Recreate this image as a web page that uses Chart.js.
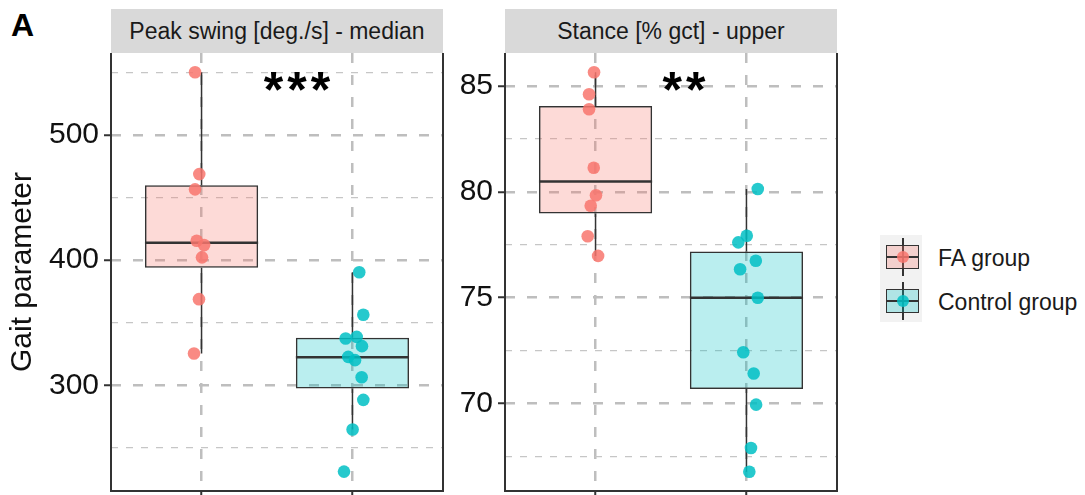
<!DOCTYPE html>
<html>
<head>
<meta charset="utf-8">
<script src="https://cdn.jsdelivr.net/npm/chart.js@4.4.1/dist/chart.umd.min.js"></script>
<style>
  body { margin: 0; background: #fff; font-family: "Liberation Sans", Arial, sans-serif; }
  #wrap { position: relative; width: 1085px; height: 495px; overflow: hidden; }
  canvas { position: absolute; }
  .strip { position: absolute; top: 9px; height: 44px; width: 332px; background: #D9D9D9;
           color: #1a1a1a; font-size: 23px; line-height: 44px; text-align: center; white-space: nowrap; }
  .tag { position: absolute; left: 11px; top: 9px; font-size: 32px; line-height: 32px; font-weight: bold; color: #000; }
  .stars { position: absolute; top: 65px; width: 200px; text-align: center; font-size: 50px; line-height: 50px; font-weight: bold; color: #000; letter-spacing: 4px; }
  .lg { position: absolute; }
  .lgtext { position: absolute; left: 938px; font-size: 23px; line-height: 28px; color: #1a1a1a; white-space: nowrap; }
</style>
</head>
<body>
<div id="wrap">
  <div class="tag">A</div>
  <div class="strip" style="left:111px">Peak swing [deg./s] - median</div>
  <div class="strip" style="left:505px">Stance [% gct] - upper</div>
  <canvas id="swing" width="445" height="442" style="left:0;top:53px"></canvas>
  <canvas id="stance" width="394" height="442" style="left:445px;top:53px"></canvas>
  <div class="stars" style="left:199px">***</div>
  <div class="stars" style="left:586px">**</div>
  <div id="legend"></div>
</div>
<script>
// groups and colours
const groups = ["FA group", "Control group"];
const xCategories = [1, 2];
const groupRGB = ["248,118,109", "0,191,196"];

// Peak swing [deg./s] - median
const swingFA = [550.0, 468.7, 456.5, 415.4, 412.0, 402.2, 368.8, 325.4];
const swingFAJitter = [-0.043, -0.015, -0.043, -0.032, 0.017, 0.003, -0.017, -0.050];
const swingCtrl = [390.3, 356.3, 337.4, 338.7, 331.3, 322.7, 320.1, 306.5, 288.4, 264.7, 231.1];
const swingCtrlJitter = [0.045, 0.072, -0.045, 0.028, 0.063, -0.028, 0.017, 0.061, 0.072, 0.001, -0.056];
const swingQ1 = [393.8, 297.5];
const swingMedian = [413.8, 322.5];
const swingQ3 = [459.8, 338.0];
const swingWhiskerLow = [325.4, 264.7];
const swingWhiskerHigh = [550.0, 390.3];
const swingTicks = [300, 400, 500];
const swingMinorTicks = [250, 350, 450, 550];
const swingRange = [215.6, 565.4];

// Stance [% gct] - upper
const stanceFA = [85.65, 84.61, 83.90, 81.14, 79.84, 79.34, 77.90, 76.97];
const stanceFAJitter = [-0.010, -0.043, -0.043, -0.012, 0.003, -0.032, -0.052, 0.017];
const stanceCtrl = [80.13, 77.92, 77.61, 76.74, 76.34, 74.99, 72.42, 71.41, 69.94, 67.89, 66.77];
const stanceCtrlJitter = [0.075, 0.002, -0.054, 0.062, -0.042, 0.075, -0.021, 0.048, 0.064, 0.030, 0.019];
const stanceQ1 = [78.98, 70.68];
const stanceMedian = [80.49, 74.99];
const stanceQ3 = [84.06, 77.18];
const stanceWhiskerLow = [76.97, 66.77];
const stanceWhiskerHigh = [85.65, 80.13];
const stanceTicks = [70, 75, 80, 85];
const stanceMinorTicks = [67.5, 72.5, 77.5, 82.5];
const stanceRange = [65.86, 86.56];

const INK = '#333333';
const GRID = '#BEBEBE';

function boxParts(stats) {
  return {
    id: 'boxParts',
    afterDatasetDraw(chart, args) {
      if (args.meta.type !== 'bar') return;
      const y = chart.scales.y;
      const ctx = chart.ctx;
      ctx.save();
      ctx.strokeStyle = INK;
      args.meta.data.forEach((bar, i) => {
        ctx.lineWidth = 1.5;
        ctx.beginPath();
        ctx.moveTo(bar.x, y.getPixelForValue(stats.high[i]));
        ctx.lineTo(bar.x, y.getPixelForValue(stats.q3[i]));
        ctx.moveTo(bar.x, y.getPixelForValue(stats.q1[i]));
        ctx.lineTo(bar.x, y.getPixelForValue(stats.low[i]));
        ctx.stroke();
        const ym = y.getPixelForValue(stats.median[i]);
        ctx.lineWidth = 2.5;
        ctx.beginPath();
        ctx.moveTo(bar.x - bar.width / 2, ym);
        ctx.lineTo(bar.x + bar.width / 2, ym);
        ctx.stroke();
      });
      ctx.restore();
    },
    afterDraw(chart) {
      // panel border (left, right, bottom)
      const a = chart.chartArea;
      const ctx = chart.ctx;
      ctx.save();
      ctx.strokeStyle = INK;
      ctx.lineWidth = 2;
      ctx.beginPath();
      ctx.moveTo(a.left, a.top);
      ctx.lineTo(a.left, a.bottom);
      ctx.lineTo(a.right, a.bottom);
      ctx.lineTo(a.right, a.top);
      ctx.stroke();
      ctx.restore();
    }
  };
}

function makePanel(id, p) {
  const noPad = s => { s.paddingTop = 0; s.paddingBottom = 0; s.paddingLeft = 0; s.paddingRight = 0; };
  return new Chart(document.getElementById(id), {
    type: 'scatter',
    data: {
      datasets: [
        {
          type: 'bar',
          data: xCategories.map((c, i) => ({ x: c, y: [p.q1[i], p.q3[i]] })),
          backgroundColor: groupRGB.map(c => 'rgba(' + c + ',0.27)'),
          borderColor: INK,
          borderWidth: 1.5,
          borderSkipped: false,
          categoryPercentage: 1,
          barPercentage: 0.75,
          order: 1
        },
        {
          label: groups[0],
          data: p.fa.map((v, i) => ({ x: xCategories[0] + p.faJitter[i], y: v })),
          pointBackgroundColor: 'rgba(' + groupRGB[0] + ',0.85)',
          pointBorderWidth: 0,
          pointRadius: 6.3,
          order: 0
        },
        {
          label: groups[1],
          data: p.ctrl.map((v, i) => ({ x: xCategories[1] + p.ctrlJitter[i], y: v })),
          pointBackgroundColor: 'rgba(' + groupRGB[1] + ',0.85)',
          pointBorderWidth: 0,
          pointRadius: 6.3,
          order: 0
        }
      ]
    },
    options: {
      responsive: false,
      animation: false,
      events: [],
      layout: { autoPadding: false, padding: { left: 0, top: 0, right: 2, bottom: 0 } },
      plugins: { legend: { display: false }, tooltip: { enabled: false } },
      scales: {
        x: {
          type: 'linear', min: 0.4, max: 2.6, offset: false,
          afterBuildTicks: s => { s.ticks = xCategories.map(v => ({ value: v })); },
          afterFit: s => { s.height = 4; noPad(s); },
          ticks: { display: false },
          grid: { offset: false, color: GRID, lineWidth: 2.5, tickLength: 6, tickColor: INK, tickWidth: 2 },
          border: { display: false, dash: [10, 12] }
        },
        y: {
          type: 'linear', position: 'left', min: p.range[0], max: p.range[1], beginAtZero: false,
          afterBuildTicks: s => { s.ticks = p.ticks.map(v => ({ value: v })); },
          afterFit: s => { s.width = p.axisWidth; noPad(s); },
          ticks: { font: { size: 30, family: 'Liberation Sans' }, color: '#111', padding: 5 },
          grid: { color: GRID, lineWidth: 2.5, tickLength: 7, tickColor: INK, tickWidth: 2 },
          border: { display: false, dash: [10, 12] },
          title: {
            display: !!p.title, text: p.title, color: '#111',
            font: { size: 30, family: 'Liberation Sans' }, padding: { top: 5, bottom: 0 }
          }
        },
        yMinor: {
          type: 'linear', position: 'left', min: p.range[0], max: p.range[1],
          afterBuildTicks: s => { s.ticks = p.minorTicks.map(v => ({ value: v })); },
          afterFit: s => { s.width = 0; noPad(s); },
          ticks: { display: false },
          grid: { color: '#C6C6C6', lineWidth: 1.2, drawTicks: false },
          border: { display: false, dash: [7, 8] }
        }
      }
    },
    plugins: [boxParts({ q1: p.q1, q3: p.q3, median: p.median, low: p.low, high: p.high })]
  });
}

makePanel('swing', {
  fa: swingFA, faJitter: swingFAJitter, ctrl: swingCtrl, ctrlJitter: swingCtrlJitter,
  q1: swingQ1, q3: swingQ3, median: swingMedian, low: swingWhiskerLow, high: swingWhiskerHigh,
  ticks: swingTicks, minorTicks: swingMinorTicks, range: swingRange,
  axisWidth: 111, title: 'Gait parameter'
});

makePanel('stance', {
  fa: stanceFA, faJitter: stanceFAJitter, ctrl: stanceCtrl, ctrlJitter: stanceCtrlJitter,
  q1: stanceQ1, q3: stanceQ3, median: stanceMedian, low: stanceWhiskerLow, high: stanceWhiskerHigh,
  ticks: stanceTicks, minorTicks: stanceMinorTicks, range: stanceRange,
  axisWidth: 60, title: ''
});

// legend: boxplot keys built from the groups
const legend = document.getElementById('legend');
function add(cls, css, text) {
  const d = document.createElement('div');
  d.className = cls;
  d.style.cssText = css;
  if (text) d.textContent = text;
  legend.appendChild(d);
}
add('lg', 'left:880px;top:235px;width:42px;height:87px;background:#F2F2F2');
groups.forEach((g, i) => {
  const cy = 257 + 44 * i;
  add('lg', `left:902px;top:${cy - 19}px;width:1.5px;height:38px;background:${INK}`);
  add('lg', `left:886px;top:${cy - 12}px;width:33px;height:24px;box-sizing:border-box;border:1.5px solid ${INK};background:rgba(${groupRGB[i]},0.27)`);
  add('lg', `left:886px;top:${cy - 1}px;width:33px;height:2px;background:${INK}`);
  add('lg', `left:897px;top:${cy - 6}px;width:12px;height:12px;border-radius:50%;background:rgba(${groupRGB[i]},0.85)`);
  add('lgtext', `top:${cy - 13}px`, g);
});
</script>
</body>
</html>
